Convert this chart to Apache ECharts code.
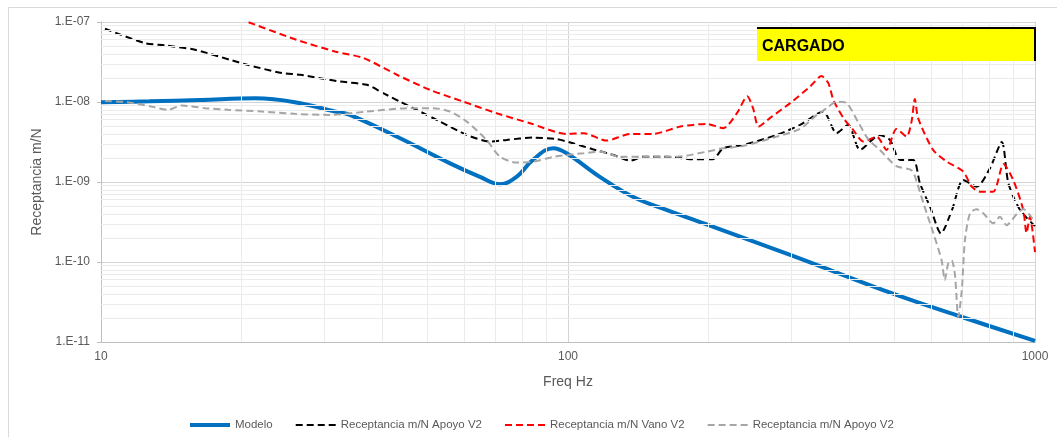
<!DOCTYPE html>
<html><head><meta charset="utf-8">
<script src="https://cdn.jsdelivr.net/npm/echarts@6/dist/echarts.min.js"></script>
<style>html,body{margin:0;padding:0;background:#fff}#c{width:1057px;height:437px}</style>
</head><body><div id="c"></div>
<script>
// ---- data ----
const seriesNames = ['Modelo', 'Receptancia m/N Apoyo V2', 'Receptancia m/N Vano V2', 'Receptancia m/N Apoyo V2 '];

const modeloFreq = [10, 12.7, 16.3, 21.4, 26.0, 31.7, 34.1, 43.7, 55.9, 64.8, 71.5, 77.6, 84.1, 92.9, 99.3, 117, 138, 163, 200, 300, 500, 700, 1000];
const modeloVal = [9.9e-9, 1.02e-8, 1.06e-8, 1.11e-8, 9.95e-9, 7.6e-9, 6.9e-9, 3.52e-9, 1.71e-9, 1.16e-9, 9.4e-10, 1.16e-9, 1.89e-9, 2.64e-9, 2.29e-9, 1.16e-9, 6.5e-10, 4.46e-10, 2.89e-10, 1.22e-10, 3.96e-11, 2.04e-11, 1.03e-11];

const apoyoFreq = [10.2, 12.4, 13.7, 15.9, 20.3, 24.4, 26.7, 32.5, 37.1, 40.2, 43.7, 47.4, 53.2, 60.7, 68.1, 73.9, 84.1, 94.6, 102.5, 113, 125, 136, 145, 163, 185, 204, 215, 237, 280, 314, 352, 376, 398, 422, 465, 489, 514, 549, 567, 596, 629, 664, 702, 750, 801, 849, 877, 929, 1000];
const apoyoVal = [8.24e-8, 5.46e-8, 5.1e-8, 4.5e-8, 2.98e-8, 2.3e-8, 2.19e-8, 1.8e-8, 1.64e-8, 1.29e-8, 1.01e-8, 7.98e-9, 5.7e-9, 3.88e-9, 3.2e-9, 3.36e-9, 3.59e-9, 3.43e-9, 3.05e-9, 2.57e-9, 2.18e-9, 1.85e-9, 2.07e-9, 2.07e-9, 1.92e-9, 1.92e-9, 2.64e-9, 2.9e-9, 3.88e-9, 5.18e-9, 7.6e-9, 4.07e-9, 5.18e-9, 2.52e-9, 3.88e-9, 3.36e-9, 1.89e-9, 1.89e-9, 9.64e-10, 4.91e-10, 2.28e-10, 4.46e-10, 1.06e-9, 8.73e-10, 1.49e-9, 3.17e-9, 9.64e-10, 4.46e-10, 2.81e-10];

const vanoFreq = [20.7, 26.2, 31.7, 36.5, 43.0, 50.6, 59.7, 70.3, 82.9, 99.4, 108, 121, 136, 152, 174, 198, 215, 230, 242, 249, 256, 271, 299, 330, 349, 361, 370, 389, 408, 429, 458, 481, 505, 531, 544, 553, 562, 605, 647, 702, 732, 763, 814, 856, 898, 944, 959, 975, 1000];
const vanoVal = [9.94e-8, 6.0e-8, 4.28e-8, 3.54e-8, 2.19e-8, 1.42e-8, 1.01e-8, 7.25e-9, 5.43e-9, 3.99e-9, 4.07e-9, 3.29e-9, 3.99e-9, 3.99e-9, 4.93e-9, 5.33e-9, 4.71e-9, 7.25e-9, 1.18e-8, 8.38e-9, 4.93e-9, 6.34e-9, 9.68e-9, 1.56e-8, 2.11e-8, 1.72e-8, 1.06e-8, 6.28e-9, 4.48e-9, 3.2e-9, 3.69e-9, 2.52e-9, 4.61e-9, 3.69e-9, 5.69e-9, 1.09e-8, 6.28e-9, 2.52e-9, 1.8e-9, 1.35e-9, 8.73e-10, 7.57e-10, 7.57e-10, 1.68e-9, 1.06e-9, 4.46e-10, 2.3e-10, 3.67e-10, 1.33e-10];

const apoyo2Freq = [10.2, 11.4, 12.8, 13.9, 14.9, 16.7, 18.7, 22.1, 26.0, 30.9, 37.1, 45.9, 51.4, 55.9, 60.7, 66.9, 71.5, 77.6, 84.3, 93.0, 99.4, 108, 117, 129, 150, 171, 198, 215, 237, 280, 314, 341, 358, 376, 395, 418, 439, 465, 505, 545, 560, 577, 606, 631, 641, 652, 663, 674, 685, 697, 708, 726, 750, 775, 814, 841, 869, 914, 944, 975, 1000];
const apoyo2Val = [1.03e-8, 9.95e-9, 8.77e-9, 7.98e-9, 9.04e-9, 8.38e-9, 7.98e-9, 7.6e-9, 7.11e-9, 6.9e-9, 7.6e-9, 8.38e-9, 8.38e-9, 7.6e-9, 5.69e-9, 3.36e-9, 2.07e-9, 1.75e-9, 1.8e-9, 2.06e-9, 2.18e-9, 2.29e-9, 2.39e-9, 2.07e-9, 2.07e-9, 2.07e-9, 2.39e-9, 2.64e-9, 2.82e-9, 3.69e-9, 4.61e-9, 6.9e-9, 8.38e-9, 1.01e-8, 9.68e-9, 5.64e-9, 3.46e-9, 2.52e-9, 1.58e-9, 1.39e-9, 9.44e-10, 5.41e-10, 2.28e-10, 1.05e-10, 5.93e-11, 9.6e-11, 1.05e-10, 6.84e-11, 2.06e-11, 4.44e-11, 1.88e-10, 4.09e-10, 4.55e-10, 4.06e-10, 3.04e-10, 3.67e-10, 2.89e-10, 3.97e-10, 4.59e-10, 3.86e-10, 3.16e-10];

const xTickLabels = ['10', '100', '1000'];
const yTickLabels = ['1.E-11', '1.E-10', '1.E-09', '1.E-08', '1.E-07'];
const boxText = 'CARGADO';

// minor gridline positions (2..9 within each decade)
const xMinor = [], yMinor = [];
[10, 100].forEach(d => { for (let k = 2; k <= 9; k++) xMinor.push(k * d); });
[1e-11, 1e-10, 1e-9, 1e-8].forEach(d => { for (let k = 2; k <= 9; k++) yMinor.push(k * d); });
const X_MIN = 10, X_MAX = 1000, Y_MIN = 1e-11, Y_MAX = 1e-7;

const zip = (a, b) => a.map((v, i) => [v, b[i]]);
const FONT = 'Liberation Sans';
const TXT = '#595959';

const gridLines = xMinor.map(v => [{ coord: [v, Y_MIN] }, { coord: [v, Y_MAX] }])
  .concat(yMinor.map(v => [{ coord: [X_MIN, v] }, { coord: [X_MAX, v] }]));

const chart = echarts.init(document.getElementById('c'), null, { renderer: 'canvas' });
chart.setOption({
  backgroundColor: '#ffffff',
  animation: false,
  textStyle: { fontFamily: FONT },
  grid: { left: 101, right: 22, top: 22, bottom: 95, containLabel: false },
  xAxis: {
    type: 'log', logBase: 10, min: X_MIN, max: X_MAX,
    name: 'Freq Hz', nameLocation: 'middle', nameGap: 33,
    nameTextStyle: { color: TXT, fontSize: 14, fontFamily: FONT },
    axisLine: { show: true, lineStyle: { color: '#bfbfbf', width: 1 } },
    axisTick: { show: false },
    axisLabel: { color: TXT, fontSize: 12, margin: 9,
      formatter: v => { const e = Math.round(Math.log10(v)); return xTickLabels[e - 1] || ''; } },
    splitLine: { show: true, lineStyle: { color: '#d4d4d4', width: 1 } },
    minorTick: { show: false }, minorSplitLine: { show: false }
  },
  yAxis: {
    type: 'log', logBase: 10, min: Y_MIN, max: Y_MAX,
    name: 'Receptancia m/N', nameLocation: 'middle', nameGap: 56, nameRotate: 90,
    nameTextStyle: { color: TXT, fontSize: 14, fontFamily: FONT },
    axisLine: { show: true, lineStyle: { color: '#bfbfbf', width: 1 } },
    axisTick: { show: true, length: 4, lineStyle: { color: '#bfbfbf' } },
    axisLabel: { color: TXT, fontSize: 12, margin: 11,
      formatter: v => { const e = Math.round(Math.log10(v)); return yTickLabels[e + 11] || ''; } },
    splitLine: { show: true, lineStyle: { color: '#d4d4d4', width: 1 } }
  },
  legend: {
    data: seriesNames,
    left: 183, top: 414,
    itemWidth: 40, itemHeight: 14, itemGap: 22,
    textStyle: { color: TXT, fontSize: 11.5, fontFamily: FONT },
    itemStyle: { opacity: 0 },
    lineStyle: { width: 'inherit' }
  },
  graphic: [
    { type: 'rect', shape: { x: 8.5, y: 7.5, width: 1070, height: 460 }, style: { fill: 'none', stroke: '#d9d9d9', lineWidth: 1 }, z: 0, silent: true },
    { type: 'rect', shape: { x: 757, y: 27, width: 279, height: 34 }, style: { fill: '#ffff00' }, z: 100 },
    { type: 'polyline', shape: { points: [[757, 28], [1035, 28], [1035, 61]] }, style: { stroke: '#000', lineWidth: 2, fill: 'none' }, z: 101 },
    { type: 'text', x: 762, y: 47, style: { text: boxText, fill: '#000', font: 'bold 16px "Liberation Sans"', textVerticalAlign: 'middle' }, z: 102 }
  ],
  series: [
    {
      name: 'minor-grid', type: 'line', data: [], z: 0, silent: true,
      markLine: {
        silent: true, symbol: ['none', 'none'], label: { show: false }, animation: false,
        lineStyle: { color: '#ebebeb', width: 1, type: 'solid' },
        data: gridLines
      }
    },
    {
      name: seriesNames[0], type: 'line', data: zip(modeloFreq, modeloVal), smooth: 0.4,
      symbol: 'none', z: 3, lineStyle: { color: '#0070C0', width: 4 }, itemStyle: { color: '#0070C0' }
    },
    {
      name: seriesNames[1], type: 'line', data: zip(apoyoFreq, apoyoVal), smooth: 0.25,
      symbol: 'none', z: 4, lineStyle: { color: '#000000', width: 2, type: [7, 4] }, itemStyle: { color: '#000000' }
    },
    {
      name: seriesNames[2], type: 'line', data: zip(vanoFreq, vanoVal), smooth: 0.25,
      symbol: 'none', z: 5, lineStyle: { color: '#ff0000', width: 2, type: [7, 4] }, itemStyle: { color: '#ff0000' }
    },
    {
      name: seriesNames[3], type: 'line', data: zip(apoyo2Freq, apoyo2Val), smooth: 0.25,
      symbol: 'none', z: 6, lineStyle: { color: '#a6a6a6', width: 2, type: [7, 4] }, itemStyle: { color: '#a6a6a6' }
    }
  ]
});
</script></body></html>
